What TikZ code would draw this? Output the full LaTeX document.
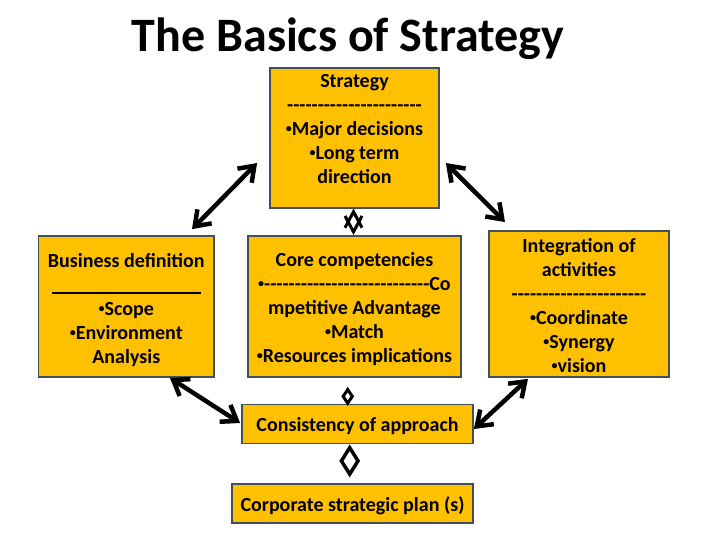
\documentclass[tikz,border=0pt]{standalone}
\usepackage{fontspec}
\setmainfont{Carlito}
\usetikzlibrary{arrows.meta,calc}
\definecolor{boxfill}{HTML}{FFC000}
\definecolor{boxline}{HTML}{42505E}
\newcommand\dashrow[1]{\foreach \i in {1,...,#1}{\mbox{-}}}
\newcommand\bul{\raisebox{0.12em}{\scalebox{0.6}{•}}}
\begin{document}
\begin{tikzpicture}[x=1pt,y=-1pt,
  box/.style={draw=boxline, fill=boxfill, line width=1.8pt, inner sep=0pt},
  txt/.style={font=\fontsize{20}{24}\selectfont\bfseries, align=center, inner sep=0pt},
  bigarrow/.style={line width=4.5pt, {Straight Barb[length=14pt,width=20pt]}-{Straight Barb[length=14pt,width=20pt]}},
  tipsonly/.style={line width=3pt, dash pattern=on 0pt off 500pt, line cap=butt},
  diam/.style={draw=black, line width=3pt, miter limit=10},
]
\useasboundingbox (0,0) rectangle (720,540);
\fill[white] (0,0) rectangle (720,540);

\node[font=\fontsize{48}{54}\selectfont\bfseries, anchor=base, inner sep=0pt] (title) at (348,52) {The Basics of Strategy};

% boxes
\node[box, minimum width=169pt, minimum height=139.7pt] (strat) at (354.5,137.8) {};
\node[box, minimum width=175.5pt, minimum height=141pt] (bus) at (126.3,306.5) {};
\node[box, minimum width=213pt, minimum height=141pt] (core) at (354.5,306.5) {};
\node[box, minimum width=180pt, minimum height=146.3pt] (integ) at (579,303.8) {};
\node[box, txt, text height=16pt, text depth=1pt, minimum width=231pt, minimum height=39pt] (cons) at (357.5,424) {Consistency of approach};
\node[box, txt, text height=16pt, text depth=1pt, minimum width=241pt, minimum height=39pt] (corp) at (352.5,503.5) {Corporate strategic plan (s)};

% box texts
\node[txt, anchor=north] (strattxt) at (354.5,70.2) {\strut Strategy\\ \dashrow{22}\\ \bul Major decisions\\ \bul Long term\\ direction};
\node[txt, anchor=north] (bustxt) at (126.3,250.2) {\strut Business definition\\ \rule[-2.5pt]{149pt}{1.5pt}\\ \bul Scope\\ \bul Environment\\ Analysis};
\node[txt, anchor=north] (coretxt) at (354.5,249.2) {\strut Core competencies\\ \bul\dashrow{27}Co\\ mpetitive Advantage\\ \bul Match\\ \bul Resources implications};
\node[txt, anchor=north] (integtxt) at (579,235) {\strut Integration of\\ activities\\ \dashrow{22}\\ \bul Coordinate\\ \bul Synergy\\ \bul vision};

% thick double arrows
\draw[bigarrow] ([shift={(65.7,-6)}]bus.north) -- ([shift={(-12,25.2)}]strat.west);
\draw[bigarrow] ([shift={(6,25.2)}]strat.east) -- ([shift={(-74,-7.7)}]integ.north);
\draw[bigarrow] ([shift={(43.7,0)}]bus.south) -- ([shift={(-1,-1)}]cons.west);
\draw[bigarrow] ([shift={(-51,1)}]integ.south) -- ([shift={(0,5)}]cons.east);

% short double arrow between Strategy and Core competencies (tips only)
\draw[tipsonly, {Straight Barb[length=16pt,width=17pt]}-{Straight Barb[length=16pt,width=17pt]}] ([xshift=-1pt]strat.south) -- ([xshift=-1pt]core.north);

% diamonds between the lower boxes
\draw[diam] ([shift={(-6.8,11.7)}]core.south) -- ++(4.6,6.8) -- ++(-4.6,6.8) -- ++(-4.6,-6.8) -- cycle;
\draw[diam, line width=3.5pt] ([shift={(-7.8,3.3)}]cons.south) -- ++(8.3,13.2) -- ++(-8.3,13.2) -- ++(-8.3,-13.2) -- cycle;
\end{tikzpicture}
\end{document}
